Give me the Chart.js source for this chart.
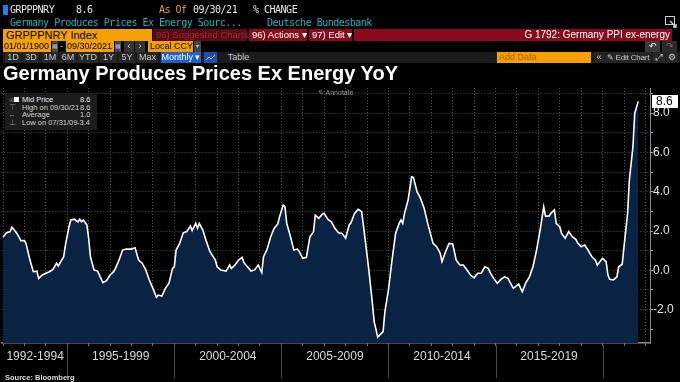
<!DOCTYPE html>
<html><head><meta charset="utf-8">
<script src="https://cdn.jsdelivr.net/npm/chart.js@4.4.1/dist/chart.umd.min.js"></script>
<style>
html,body{margin:0;padding:0;background:#000;width:680px;height:382px;overflow:hidden;}
#c{position:absolute;left:0;top:0;}
.a{position:absolute;white-space:nowrap;box-sizing:border-box;overflow:visible;}
.m{font-family:"DejaVu Sans Mono",monospace;font-size:10px;letter-spacing:-0.5px;line-height:10px;}
.s{font-family:"Liberation Sans",Arial,sans-serif;font-size:9px;line-height:11px;}
.bx{height:11px;top:41px;}
.r5{top:52px;height:11px;color:#c8c8c8;text-align:center;background:#262626;}
.lg{font-family:"Liberation Sans",Arial,sans-serif;font-size:7.5px;line-height:8px;color:#d0d0d0;}
</style></head><body>
<canvas id="c" width="680" height="382"></canvas>

<!-- row 1 -->
<div class="a" style="left:3px;top:5px;width:5px;height:10px;background:#1f7cf0"></div>
<div class="a m" style="left:10px;top:5px;color:#e8e8e8">GRPPPNRY</div>
<div class="a m" style="left:76px;top:5px;color:#e8e8e8">8.6</div>
<div class="a m" style="left:159px;top:5px;color:#f0a030">As Of</div>
<div class="a m" style="left:193px;top:5px;color:#e8e8e8">09/30/21</div>
<div class="a m" style="left:253px;top:5px;color:#e8e8e8">% CHANGE</div>
<!-- row 2 -->
<div class="a m" style="left:10px;top:18px;color:#1ab3c4">Germany Produces Prices Ex Energy Sourc...</div>
<div class="a m" style="left:267px;top:18px;color:#1ab3c4">Deutsche Bundesbank</div>
<svg class="a" style="left:665px;top:16px" width="13" height="12"><rect x="0.5" y="0.5" width="9" height="8" fill="none" stroke="#ccc"/><path d="M5 5 L11 11 M8 11 L11 11 L11 8" stroke="#ddd" fill="none" stroke-width="1.3"/></svg>
<!-- row 3 -->
<div class="a s" style="left:3px;top:29px;width:149px;height:12px;line-height:12px;background:#f4a100;color:#000;padding-left:3px;font-size:11px">GRPPPNRY Index</div>
<div class="a s" style="left:153px;top:29px;width:94px;height:12px;line-height:12px;background:#5a0a13;color:#9a2c3a;padding-left:3px;font-size:9.5px">96) Suggested Charts</div>
<div class="a s" style="left:249px;top:29px;width:58px;height:12px;line-height:12px;background:#8a0c1c;color:#fff;padding-left:3px;font-size:9.5px">96) Actions ▾</div>
<div class="a s" style="left:309px;top:29px;width:43px;height:12px;line-height:12px;background:#8a0c1c;color:#fff;padding-left:3px;font-size:9.5px">97) Edit ▾</div>
<div class="a s" style="left:354px;top:29px;width:318px;height:12px;line-height:12px;background:#8a0c1c;color:#fff;text-align:right;padding-right:2px;font-size:10px">G 1792: Germany PPI ex-energy</div>
<!-- row 4 -->
<div class="a s bx" style="left:3px;width:48px;background:#f4a100;color:#000;padding-left:1px">01/01/1900</div>
<div class="a s bx" style="left:52px;width:6px;background:#444;color:#bbb;font-size:6px;text-align:center">▦</div>
<div class="a s bx" style="left:60px;color:#ddd">-</div>
<div class="a s bx" style="left:66px;width:48px;background:#f4a100;color:#000;padding-left:1px">09/30/2021</div>
<div class="a s bx" style="left:115px;width:6px;background:#444;color:#bbb;font-size:6px;text-align:center">▦</div>
<div class="a s bx" style="left:124px;width:10px;background:#333;color:#ddd;text-align:center">‹</div>
<div class="a s bx" style="left:135px;width:10px;background:#333;color:#ddd;text-align:center">›</div>
<div class="a s bx" style="left:148px;width:45px;background:#f4a100;color:#000;padding-left:2px">Local CCY</div>
<div class="a s bx" style="left:194px;width:7px;background:#444;color:#ccc;font-size:6px;text-align:center">▾</div>
<div class="a s bx" style="left:645px;width:15px;background:#3a3a3a;color:#fff;text-align:center">↶</div>
<div class="a s bx" style="left:662px;width:15px;background:#2a2a2a;color:#777;text-align:center">↷</div>
<!-- row 5 -->
<div class="a" style="left:3px;top:52px;width:677px;height:11px;background:#1b1b1b"></div>
<div class="a s r5" style="left:5px;width:16px">1D</div>
<div class="a s r5" style="left:23px;width:16px">3D</div>
<div class="a s r5" style="left:42px;width:16px">1M</div>
<div class="a s r5" style="left:60px;width:16px">6M</div>
<div class="a s r5" style="left:78px;width:20px">YTD</div>
<div class="a s r5" style="left:100px;width:17px">1Y</div>
<div class="a s r5" style="left:119px;width:16px">5Y</div>
<div class="a s r5" style="left:137px;width:21px">Max</div>
<div class="a s r5" style="left:161px;width:40px;background:#1f5fd0;color:#fff">Monthly ▾</div>
<svg class="a" style="left:204px;top:52px" width="13" height="11"><rect width="13" height="11" fill="#1f4fa8"/><path d="M2 8 L5 5 L7 7 L11 3" stroke="#9cc0ff" fill="none"/></svg>
<div class="a s r5" style="left:220px;width:37px;background:#1b1b1b">Table</div>
<div class="a s" style="left:497px;top:52px;width:94px;height:11px;background:#f4a100;color:#a85c00;padding-left:2px">Add Data</div>
<div class="a s r5" style="left:594px;width:10px">«</div>
<div class="a s r5" style="left:605px;width:46px;font-size:8px;letter-spacing:-0.2px">✎ Edit Chart</div>
<div class="a s r5" style="left:653px;width:12px">⤢</div>
<div class="a s r5" style="left:666px;width:12px">⚙</div>
<!-- title -->
<div class="a" style="left:3px;top:62px;font-family:'Liberation Sans',Arial,sans-serif;font-weight:bold;font-size:20px;line-height:22px;color:#fff">Germany Produces Prices Ex Energy YoY</div>
<!-- legend -->
<div class="a" style="left:5px;top:93px;width:92px;height:37px;background:#1c1c1c"></div>
<div class="a" style="left:14px;top:97px;width:5px;height:5px;background:#fff"></div>
<div class="a lg" style="left:9px;top:96px;color:#777;font-size:6px">⊞</div>
<div class="a lg" style="left:9px;top:104px;color:#888">⊤</div>
<div class="a lg" style="left:8px;top:111px;color:#888">↔</div>
<div class="a lg" style="left:9px;top:119px;color:#888">⊥</div>
<div class="a lg" style="left:22px;top:96px;color:#eee">Mid Price</div>
<div class="a lg" style="left:22px;top:104px">High on 09/30/21</div>
<div class="a lg" style="left:22px;top:111px">Average</div>
<div class="a lg" style="left:22px;top:119px">Low on 07/31/09</div>
<div class="a lg" style="left:80px;top:96px;color:#eee" id="lv0"></div>
<div class="a lg" style="left:80px;top:104px" id="lv1"></div>
<div class="a lg" style="left:80px;top:111px" id="lv2"></div>
<div class="a lg" style="left:77px;top:119px" id="lv3"></div>
<div class="a lg" style="left:318px;top:89px;color:#9a9a9a;font-size:7px">✎ Annotate</div>
<div class="a" style="left:5px;top:373px;font-family:'Liberation Sans',Arial,sans-serif;font-weight:bold;font-size:7.5px;color:#ddd">Source: Bloomberg</div>

<script>
// ---- data ----
const months = ["1992-01","1992-03","1992-05","1992-06","1992-08","1992-09","1992-11","1993-01","1993-02","1993-04","1993-06","1993-08","1993-09","1993-11","1994-01","1994-03","1994-05","1994-07","1994-08","1994-11","1994-12","1995-02","1995-03","1995-05","1995-07","1995-08","1995-09","1995-10","1995-12","1996-01","1996-02","1996-04","1996-06","1996-09","1996-11","1997-01","1997-03","1997-04","1997-06","1997-08","1997-10","1998-01","1998-03","1998-05","1998-07","1998-09","1998-11","1999-01","1999-03","1999-04","1999-06","1999-08","1999-10","1999-12","2000-01","2000-02","2000-04","2000-06","2000-08","2000-10","2000-11","2001-01","2001-02","2001-03","2001-05","2001-07","2001-09","2001-12","2002-01","2002-03","2002-06","2002-08","2002-09","2002-11","2003-01","2003-03","2003-04","2003-06","2003-08","2003-10","2003-12","2004-02","2004-03","2004-05","2004-07","2004-09","2004-11","2004-12","2005-02","2005-03","2005-04","2005-06","2005-08","2005-10","2005-11","2006-01","2006-03","2006-05","2006-07","2006-08","2006-10","2006-12","2007-01","2007-03","2007-05","2007-07","2007-09","2007-11","2008-01","2008-03","2008-04","2008-06","2008-08","2008-10","2008-12","2009-02","2009-04","2009-05","2009-07","2009-09","2009-10","2009-11","2010-01","2010-03","2010-05","2010-07","2010-08","2010-09","2010-10","2010-12","2011-02","2011-03","2011-05","2011-07","2011-09","2011-11","2012-02","2012-04","2012-06","2012-07","2012-09","2012-11","2013-01","2013-03","2013-05","2013-07","2013-09","2013-11","2014-01","2014-03","2014-05","2014-07","2014-09","2014-10","2014-12","2015-02","2015-04","2015-06","2015-08","2015-10","2015-11","2016-02","2016-04","2016-06","2016-08","2016-10","2016-12","2017-02","2017-04","2017-05","2017-07","2017-08","2017-10","2017-11","2018-01","2018-02","2018-04","2018-06","2018-08","2018-10","2018-11","2019-01","2019-03","2019-05","2019-07","2019-09","2019-10","2019-11","2020-01","2020-03","2020-04","2020-05","2020-07","2020-09","2020-10","2020-12","2021-01","2021-03","2021-04","2021-06","2021-07","2021-09"];
const values = [1.7,1.91,1.97,2.19,1.97,1.85,1.51,1.51,1.34,0.56,-0.07,-0.04,-0.41,-0.24,-0.15,-0.07,0.05,0.36,0.22,0.69,1.29,2.22,2.56,2.6,2.47,2.6,2.47,2.56,2.31,1.63,0.69,0.02,-0.04,-0.63,-0.53,-0.24,-0.07,0.1,0.52,1.03,1.08,1.08,1.15,0.52,0.36,0.02,-0.49,-0.92,-1.37,-1.26,-1.31,-0.92,-0.66,0.1,0.18,1.03,1.37,1.91,1.97,2.25,2.02,2.39,2.14,2.39,2.05,1.46,0.95,0.52,0.18,0.02,-0.04,0.27,0.1,0.27,0.52,0.66,0.39,0.18,-0.04,0.02,0.27,-0.12,0.69,1.07,1.71,2.14,2.36,2.73,3.32,3.24,2.39,1.75,1.03,1.08,0.95,0.61,0.66,1.71,1.97,2.81,2.65,2.87,2.9,2.6,2.47,2.14,1.91,1.88,1.63,2.31,2.42,2.9,3.1,2.98,1.54,0.02,-1.68,-2.61,-3.4,-3.21,-3.12,-2.1,-1.0,0.52,1.88,2.39,2.56,2.39,2.9,3.58,4.76,4.73,4.0,3.66,3.16,2.39,1.37,1.2,0.87,0.44,0.95,1.37,1.34,0.52,0.27,0.27,0.02,-0.24,-0.38,-0.15,-0.15,0.18,0.1,-0.12,-0.41,-0.66,-0.46,-0.33,-0.41,-0.75,-0.92,-0.7,-1.09,-0.63,-0.33,0.18,1.03,2.05,3.24,2.76,2.76,2.9,3.07,2.39,2.22,1.88,1.63,1.97,1.71,1.58,1.4,1.2,1.29,1.0,0.69,0.52,0.27,0.39,0.61,0.44,-0.24,-0.46,-0.49,-0.33,0.18,0.31,1.2,2.9,4.6,6.29,7.99,8.6];
const yTickValues = [-2, 0, 2, 4, 6, 8];
const periodLabels = ["1992-1994","1995-1999","2000-2004","2005-2009","2010-2014","2015-2019"];
const periodStarts = [1992, 1995, 2000, 2005, 2010, 2015];
const periodEnds   = [1995, 2000, 2005, 2010, 2015, 2020];
const separatorYears = [1995, 2000, 2005, 2010, 2015, 2020];
const legendValues = ["8.6", "8.6", "1.0", "-3.4"];
const lastValue = 8.6;

legendValues.forEach((v,i)=>{document.getElementById('lv'+i).textContent=v;});

const points = months.map((m,i)=>{const p=m.split('-').map(Number);return {x:p[0]+(p[1]-1)/12, y:values[i]};});

const overlay = {
  id:'overlay',
  afterDraw(chart){
    const {ctx, scales:{x,y}} = chart;
    ctx.save();
    ctx.strokeStyle='#4a4a4a'; ctx.lineWidth=1;
    separatorYears.forEach(yr=>{
      const px=Math.round(x.getPixelForValue(yr))+0.5;
      ctx.beginPath(); ctx.moveTo(px,345); ctx.lineTo(px,378); ctx.stroke();
    });
    ctx.font='12px "Liberation Sans", Arial, sans-serif';
    ctx.fillStyle='#dcdcdc'; ctx.textAlign='center'; ctx.textBaseline='middle';
    periodLabels.forEach((lab,i)=>{
      const a=x.getPixelForValue(periodStarts[i]), b=x.getPixelForValue(periodEnds[i]);
      ctx.fillText(lab,(a+b)/2,357);
    });
    const py=y.getPixelForValue(lastValue);
    ctx.fillStyle='#fff'; ctx.fillRect(652,Math.round(py)-6,26,13);
    ctx.fillStyle='#000'; ctx.textAlign='left';
    ctx.fillText(lastValue.toFixed(1),656,Math.round(py)+0.5);
    ctx.restore();
  }
};

new Chart(document.getElementById('c'),{
  type:'line',
  data:{datasets:[{data:points,borderColor:'#ffffff',borderWidth:1.6,backgroundColor:'#0b2342',fill:'start',pointRadius:0,tension:0}]},
  options:{
    responsive:false, animation:false, devicePixelRatio:1,
    layout:{padding:{top:88,left:0,right:0,bottom:0}},
    plugins:{legend:{display:false},tooltip:{enabled:false},title:{display:false}},
    scales:{
      x:{type:'linear',min:1991.925,max:2022.214,z:1,
        afterFit(s){s.height=39;},
        ticks:{stepSize:1,includeBounds:false,autoSkip:false,maxRotation:0,callback:()=>''},
        grid:{color:'rgba(120,120,120,0.7)',tickLength:3,tickColor:'#777'},
        border:{color:'#8a929c',width:1.5,dash:[1,2]}
      },
      y:{position:'right',min:-3.7,max:9.28,z:1,
        afterFit(s){s.width=30;},
        ticks:{stepSize:1,includeBounds:false,padding:0,color:'#e6e6e6',
          font:{family:'"Liberation Sans", Arial, sans-serif',size:12},
          callback:(v)=> yTickValues.includes(v) ? v.toFixed(1) : ''},
        grid:{color:'rgba(120,120,120,0.7)',tickLength:3,tickColor:'#aaa'},
        border:{color:'#8a8a8a',width:1,dash:[1,2]}
      }
    }
  },
  plugins:[overlay]
});
</script>
</body></html>
